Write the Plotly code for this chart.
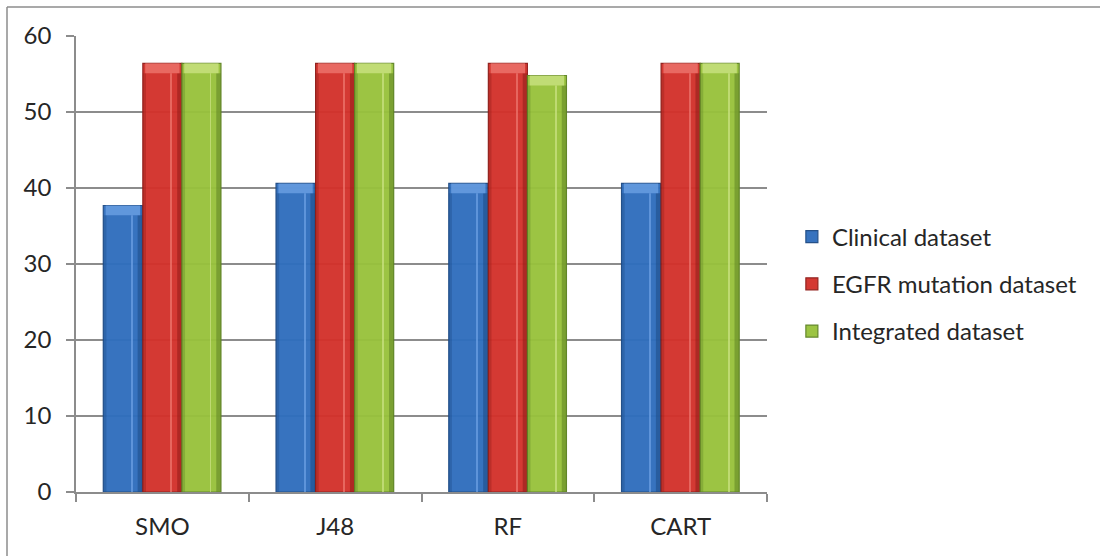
import plotly.graph_objects as go

# Classifier accuracy by dataset
classifiers = ["SMO", "J48", "RF", "CART"]
clinical = [37.7, 40.6, 40.6, 40.6]
egfr_mutation = [56.4, 56.4, 56.4, 56.4]
integrated = [56.4, 56.4, 54.8, 56.4]

series = [
    ("Clinical dataset", clinical, "#2f6ebd", "#1d4a85", "#6fa3e6"),
    ("EGFR mutation dataset", egfr_mutation, "#d3312b", "#8f1c18", "#ef7a72"),
    ("Integrated dataset", integrated, "#98c23c", "#5f8424", "#cde486"),
]

bar_w = 0.226
offsets = [-0.342, -0.113, 0.113]
cap = 1.3  # height of the bevelled top, in data units

fig = go.Figure()
for i, (name, vals, col, dark, light) in enumerate(series):
    off = offsets[i]
    # main body
    fig.add_trace(go.Bar(
        x=classifiers, y=vals, name=name, legendgroup=name,
        offset=off, width=bar_w,
        marker=dict(color=col, line=dict(color=dark, width=1.2)),
        opacity=0.96,
    ))
    # darker side shading
    fig.add_trace(go.Bar(
        x=classifiers, y=[v - cap for v in vals], legendgroup=name, showlegend=False,
        offset=off + bar_w * 0.88, width=bar_w * 0.12,
        marker=dict(color=dark, line=dict(width=0)), opacity=0.55, hoverinfo="skip",
    ))
    fig.add_trace(go.Bar(
        x=classifiers, y=[v - cap for v in vals], legendgroup=name, showlegend=False,
        offset=off, width=bar_w * 0.08,
        marker=dict(color=dark, line=dict(width=0)), opacity=0.35, hoverinfo="skip",
    ))
    # thin highlight stripe
    fig.add_trace(go.Bar(
        x=classifiers, y=[v - cap for v in vals], legendgroup=name, showlegend=False,
        offset=off + bar_w * 0.72, width=bar_w * 0.025,
        marker=dict(color=light, line=dict(width=0)), opacity=0.7, hoverinfo="skip",
    ))
    # bevelled top
    fig.add_trace(go.Bar(
        x=classifiers, y=[cap] * len(vals), base=[v - cap for v in vals],
        legendgroup=name, showlegend=False,
        offset=off + bar_w * 0.06, width=bar_w * 0.88,
        marker=dict(color=light, line=dict(width=0)), opacity=0.75, hoverinfo="skip",
    ))

axis_grey = "#8c8c8c"
fig.update_layout(
    width=1100, height=556,
    margin=dict(l=76, r=333, t=36, b=64),
    paper_bgcolor="white", plot_bgcolor="white",
    barmode="overlay",
    font=dict(family="Lato, Carlito, Liberation Sans, sans-serif", size=24, color="#262626"),
    showlegend=True,
    legend=dict(
        x=1.036, y=0.456, xanchor="left", yanchor="middle",
        traceorder="grouped", tracegroupgap=13,
        font=dict(size=24, color="#262626"),
        itemwidth=30,
    ),
    xaxis=dict(
        type="category", range=[-0.5, 3.5],
        tickson="boundaries", ticks="outside", ticklen=8, tickcolor=axis_grey, tickwidth=1.5,
        showline=True, linecolor=axis_grey, linewidth=1.5,
        showgrid=False, ticklabelstandoff=12,
    ),
    yaxis=dict(
        range=[0, 60], dtick=10,
        ticks="outside", ticklen=8, tickcolor=axis_grey, tickwidth=1.5,
        showline=True, linecolor=axis_grey, linewidth=1.5,
        showgrid=True, gridcolor=axis_grey, gridwidth=1.5,
        zeroline=False, ticklabelstandoff=10,
    ),
    shapes=[
        # outer chart frame (top and left edges)
        dict(type="line", xref="paper", yref="paper",
             x0=(7 - 76) / 691, x1=1.6, y0=(492 - 7) / 456, y1=(492 - 7) / 456,
             line=dict(color=axis_grey, width=1.5)),
        dict(type="line", xref="paper", yref="paper",
             x0=(7 - 76) / 691, x1=(7 - 76) / 691, y0=(492 - 7) / 456, y1=-0.2,
             line=dict(color=axis_grey, width=1.5)),
    ],
)

fig.write_html("out.html")
